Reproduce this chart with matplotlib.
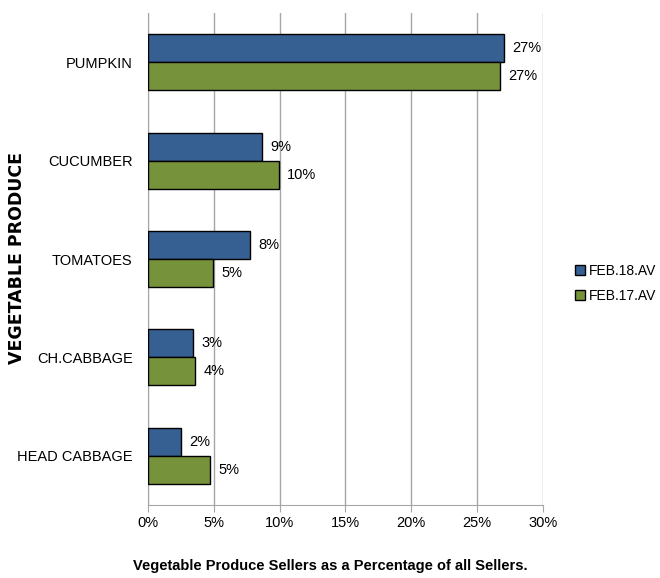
import numpy as np
import matplotlib
matplotlib.use("Agg")
import matplotlib.pyplot as plt
from matplotlib.patches import Patch

# Values (percent of all sellers)
categories = ["PUMPKIN", "CUCUMBER", "TOMATOES", "CH.CABBAGE", "HEAD CABBAGE"]
feb18 = [27.05, 8.65, 7.75, 3.45, 2.48]
feb17 = [26.75, 9.93, 4.97, 3.57, 4.71]
feb18_labels = ["27%", "9%", "8%", "3%", "2%"]
feb17_labels = ["27%", "10%", "5%", "4%", "5%"]

blue = "#366092"
green = "#76933C"
grid_col = "#A6A6A6"
narrow = ["Liberation Sans", "DejaVu Sans"]

fig = plt.figure(figsize=(6.6, 5.78), dpi=100)
ax = fig.add_axes([0.2242, 0.1263, 0.5985, 0.8512])

y = np.arange(len(categories))
h = 0.285
ax.barh(y - h / 2, feb18, height=h, color=blue, edgecolor="black", linewidth=1.0, zorder=3)
ax.barh(y + h / 2, feb17, height=h, color=green, edgecolor="black", linewidth=1.0, zorder=3)

for i in range(len(categories)):
    ax.annotate(feb18_labels[i], (feb18[i], y[i] - h / 2), xytext=(6, 0), textcoords="offset points",
                va="center", ha="left", fontsize=10.5, family=narrow)
    ax.annotate(feb17_labels[i], (feb17[i], y[i] + h / 2), xytext=(6, 0), textcoords="offset points",
                va="center", ha="left", fontsize=10.5, family=narrow)

ax.set_xlim(0, 30)
ax.set_ylim(len(categories) - 0.5, -0.5)
ax.set_xticks(np.arange(0, 31, 5))
ax.set_xticklabels([f"{v}%" for v in range(0, 31, 5)], family=narrow, fontsize=10.5)
ax.set_yticks(y)
ax.set_yticklabels(categories, family=narrow, fontsize=10.5)
ax.tick_params(axis="y", length=0, pad=11)
ax.tick_params(axis="x", length=5, color=grid_col, pad=3)
ax.xaxis.grid(True, color=grid_col, linewidth=1.0, zorder=0)
ax.set_axisbelow(True)

for s in ["top", "right"]:
    ax.spines[s].set_visible(False)
for s in ["left", "bottom"]:
    ax.spines[s].set_color(grid_col)

ax.set_xlabel("Vegetable Produce Sellers as a Percentage of all Sellers.", family=narrow,
              fontsize=10.5, fontweight="bold")
ax.xaxis.set_label_coords(0.461, -0.11)
fig.text(0.026, 0.554, "VEGETABLE PRODUCE", rotation=90, ha="center", va="center",
         fontsize=12.5, fontweight="bold", family="DejaVu Sans")

handles = [Patch(facecolor=blue, edgecolor="black", label="FEB.18.AV"),
           Patch(facecolor=green, edgecolor="black", label="FEB.17.AV")]
fig.legend(handles=handles, loc="center left", bbox_to_anchor=(0.871, 0.5095), frameon=False,
           prop={"family": narrow, "size": 10}, handlelength=0.7, handleheight=0.7,
           handletextpad=0.3, labelspacing=0.8, borderaxespad=0, borderpad=0)

fig.savefig("out.png", dpi=100)
